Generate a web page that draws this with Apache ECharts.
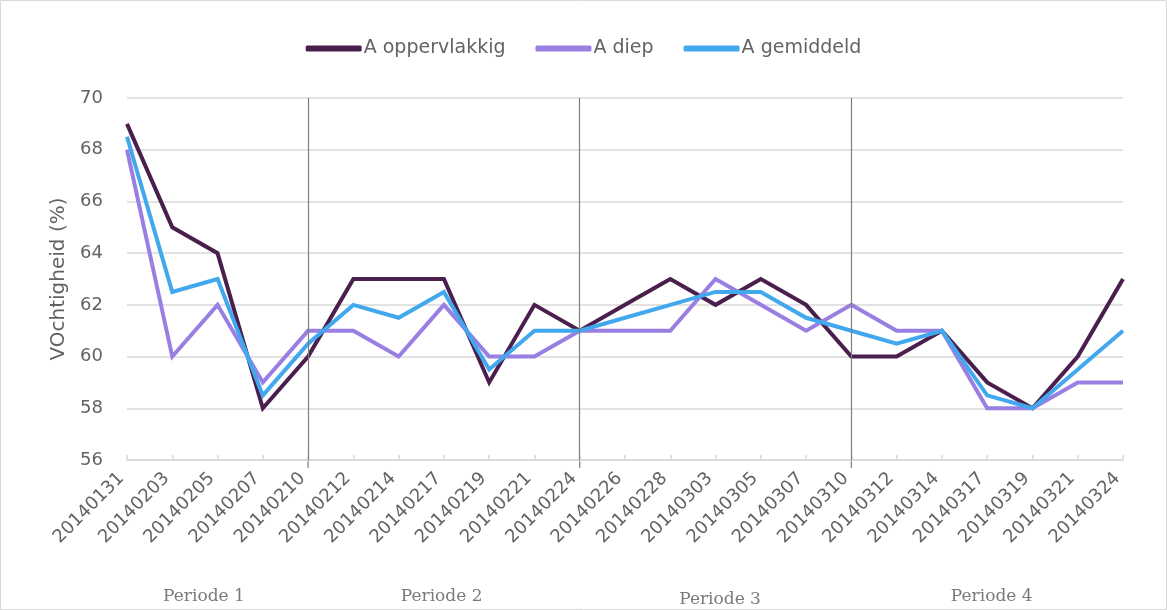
<!DOCTYPE html>
<html>
<head>
<meta charset="utf-8">
<script src="https://cdn.jsdelivr.net/npm/echarts@6/dist/echarts.min.js"></script>
<style>
  html, body { margin: 0; padding: 0; background: #fff; }
  #chart { width: 1167px; height: 610px; }
</style>
</head>
<body>
<div id="chart"></div>
<script>
// Measurement dates (yyyymmdd)
const dates = [
  '20140131', '20140203', '20140205', '20140207', '20140210', '20140212',
  '20140214', '20140217', '20140219', '20140221', '20140224', '20140226',
  '20140228', '20140303', '20140305', '20140307', '20140310', '20140312',
  '20140314', '20140317', '20140319', '20140321', '20140324'
];

// Moisture content (%) per depth
const oppervlakkig = [69, 65, 64, 58, 60, 63, 63, 63, 59, 62, 61, 62, 63, 62, 63, 62, 60, 60, 61, 59, 58, 60, 63];
const diep         = [68, 60, 62, 59, 61, 61, 60, 62, 60, 60, 61, 61, 61, 63, 62, 61, 62, 61, 61, 58, 58, 59, 59];
const gemiddeld    = [68.5, 62.5, 63, 58.5, 60.5, 62, 61.5, 62.5, 59.5, 61, 61, 61.5, 62, 62.5, 62.5, 61.5, 61, 60.5, 61, 58.5, 58, 59.5, 61];

// Period boundaries (dates where a new period starts)
const periodBreaks = ['20140210', '20140224', '20140310'];
// Period labels with their centre expressed as a position along the date axis
const periodNames = ['Periode 1', 'Periode 2', 'Periode 3', 'Periode 4'];
const periodCentres = [1.7, 6.95, 13.1, 19.1];

const yTicks = { min: 56, max: 70, interval: 2 };

const textColor = '#636363';
const gridColor = '#d9d9d9';
const sansFont = '"DejaVu Sans", "Noto Sans", sans-serif';

const chart = echarts.init(document.getElementById('chart'));

function lineSeries(name, data, color) {
  return {
    name: name,
    type: 'line',
    data: data,
    symbol: 'none',
    lineStyle: { width: 4, color: color, join: 'miter' },
    itemStyle: { color: color },
    animation: false
  };
}

const series = [
  lineSeries('A oppervlakkig', oppervlakkig, '#4b1f4d'),
  lineSeries('A diep', diep, '#9a7fe3'),
  lineSeries('A gemiddeld', gemiddeld, '#42a8ee')
];

// Period separators drawn as vertical lines at the breaking dates
series[0].markLine = {
  silent: true,
  symbol: 'none',
  label: { show: false },
  lineStyle: { color: '#7f7f7f', width: 1.2, type: 'solid' },
  data: periodBreaks.map(d => ({ xAxis: d })),
  animation: false
};

chart.setOption({
  backgroundColor: '#ffffff',
  animation: false,
  legend: {
    top: 34,
    left: 'center',
    itemWidth: 56,
    itemHeight: 6,
    itemGap: 30,
    icon: 'roundRect',
    textStyle: { color: textColor, fontSize: 19, fontFamily: sansFont, padding: [0, 0, 0, -3] },
    data: ['A oppervlakkig', 'A diep', 'A gemiddeld']
  },
  grid: { left: 127, right: 44, top: 98, bottom: 150, containLabel: false },
  xAxis: {
    type: 'category',
    data: dates,
    boundaryGap: false,
    axisLine: { show: true, lineStyle: { color: gridColor, width: 1.5 } },
    axisTick: { show: true, inside: true, length: 5, lineStyle: { color: gridColor, width: 1.5 } },
    axisLabel: {
      rotate: 45,
      interval: 0,
      margin: 10,
      // shifts the rotated labels straight down from their ticks
      padding: [16, 8, 0, 0],
      color: textColor,
      fontSize: 18,
      fontFamily: sansFont
    },
    splitLine: { show: false }
  },
  yAxis: {
    type: 'value',
    min: yTicks.min,
    max: yTicks.max,
    interval: yTicks.interval,
    name: 'VOchtigheid (%)',
    nameLocation: 'middle',
    nameGap: 52,
    nameRotate: 90,
    nameTextStyle: { color: textColor, fontSize: 20, fontFamily: sansFont },
    axisLine: { show: false },
    axisTick: { show: false },
    axisLabel: { color: textColor, fontSize: 18, fontFamily: sansFont, margin: 24 },
    splitLine: { show: true, lineStyle: { color: gridColor, width: 1.5 } }
  },
  series: series
});

// Position of a fractional point along the category axis, in pixels
function axisX(pos) {
  const i0 = Math.floor(pos);
  const i1 = Math.min(i0 + 1, dates.length - 1);
  const x0 = chart.convertToPixel({ xAxisIndex: 0 }, dates[i0]);
  const x1 = chart.convertToPixel({ xAxisIndex: 0 }, dates[i1]);
  return x0 + (x1 - x0) * (pos - i0);
}

const axisBottom = chart.convertToPixel({ yAxisIndex: 0 }, yTicks.min);

const graphics = [
  {
    type: 'rect',
    shape: { x: 0.5, y: 0.5, width: 1166, height: 609 },
    style: { fill: 'none', stroke: '#d9d9d9', lineWidth: 1 },
    silent: true
  }
];

// Separator stubs below the axis line
periodBreaks.forEach(d => {
  const x = chart.convertToPixel({ xAxisIndex: 0 }, d);
  graphics.push({
    type: 'line',
    shape: { x1: x, y1: axisBottom, x2: x, y2: axisBottom + 8 },
    style: { stroke: '#7f7f7f', lineWidth: 1.2 },
    silent: true
  });
});

periodNames.forEach((name, i) => {
  graphics.push({
    type: 'text',
    x: axisX(periodCentres[i]),
    y: i === 2 ? 600 : 597,
    style: {
      text: name,
      fill: '#7a7a7a',
      font: '17px "DejaVu Serif", "Liberation Serif", serif',
      textAlign: 'center',
      textVerticalAlign: 'middle'
    },
    silent: true
  });
});

chart.setOption({ graphic: graphics });
</script>
</body>
</html>
